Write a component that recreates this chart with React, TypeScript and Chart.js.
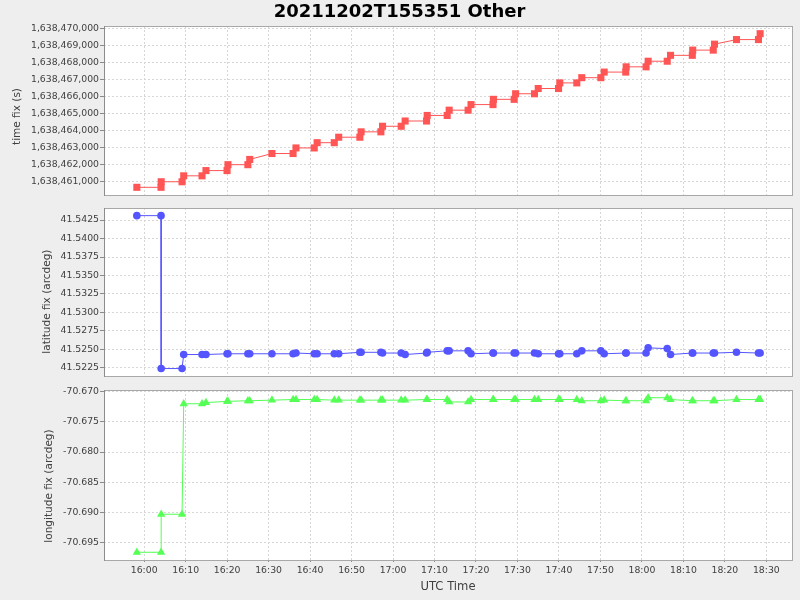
import React, { useEffect, useRef } from "react";
import { Chart, registerables } from "chart.js";

Chart.register(...registerables);

const FONT = "'DejaVu Sans', 'Noto Sans', sans-serif";
const TITLE = "20211202T155351 Other";
const X_TITLE = "UTC Time";
const TIME_FIX_TITLE = "time fix (s)";
const LAT_TITLE = "latitude fix (arcdeg)";
const LON_TITLE = "longitude fix (arcdeg)";

// UTC time of each fix record
const UTC_TIMES = [
  "15:58:14", "16:04:04", "16:04:06", "16:09:08", "16:09:32", "16:13:57", "16:14:54", "16:19:59", "16:20:12", "16:25:00",
  "16:25:27", "16:30:48", "16:35:54", "16:36:36", "16:41:00", "16:41:42", "16:45:50", "16:46:54", "16:52:00", "16:52:18",
  "16:57:04", "16:57:28", "17:01:58", "17:02:55", "17:08:05", "17:08:14", "17:13:03", "17:13:32", "17:18:06", "17:18:48",
  "17:24:06", "17:24:12", "17:29:12", "17:29:33", "17:34:06", "17:35:00", "17:39:54", "17:40:12", "17:44:18", "17:45:30",
  "17:50:06", "17:50:54", "17:56:06", "17:56:12", "18:01:00", "18:01:30", "18:06:06", "18:06:54", "18:12:09", "18:12:15",
  "18:17:12", "18:17:30", "18:22:48", "18:28:06", "18:28:30",
];

const TIME_FIX = [
  1638460673, 1638460673, 1638461000, 1638461000, 1638461348, 1638461348, 1638461657, 1638461657, 1638462004, 1638462004,
  1638462313, 1638462661, 1638462661, 1638462989, 1638462989, 1638463298, 1638463298, 1638463620, 1638463620, 1638463936,
  1638463936, 1638464264, 1638464264, 1638464573, 1638464573, 1638464901, 1638464901, 1638465211, 1638465211, 1638465539,
  1638465539, 1638465848, 1638465848, 1638466176, 1638466176, 1638466485, 1638466485, 1638466815, 1638466815, 1638467122,
  1638467122, 1638467451, 1638467451, 1638467760, 1638467760, 1638468090, 1638468090, 1638468436, 1638468436, 1638468743,
  1638468743, 1638469093, 1638469363, 1638469363, 1638469710,
];

const LATITUDE = [
  41.5431, 41.5431, 41.5224, 41.5224, 41.5243, 41.5243, 41.5243, 41.5244, 41.5244, 41.5244,
  41.5244, 41.5244, 41.5244, 41.5245, 41.5244, 41.5244, 41.5244, 41.5244, 41.5246, 41.5246,
  41.5246, 41.5245, 41.5245, 41.5243, 41.5245, 41.5246, 41.5248, 41.5248, 41.5248, 41.5244,
  41.5245, 41.5245, 41.5245, 41.5245, 41.5245, 41.5244, 41.5244, 41.5244, 41.5244, 41.5248,
  41.5248, 41.5244, 41.5245, 41.5245, 41.5245, 41.5252, 41.5251, 41.5243, 41.5245, 41.5245,
  41.5245, 41.5245, 41.5246, 41.5245, 41.5245,
];

const LONGITUDE = [
  -70.6966, -70.6966, -70.6903, -70.6903, -70.672, -70.672, -70.6718, -70.6716, -70.6716, -70.6715,
  -70.6715, -70.6714, -70.6713, -70.6713, -70.6713, -70.6713, -70.6714, -70.6714, -70.6714, -70.6714,
  -70.6714, -70.6714, -70.6714, -70.6714, -70.6713, -70.6713, -70.6713, -70.6717, -70.6717, -70.6713,
  -70.6713, -70.6713, -70.6713, -70.6713, -70.6713, -70.6713, -70.6713, -70.6713, -70.6713, -70.6715,
  -70.6715, -70.6714, -70.6715, -70.6715, -70.6715, -70.671, -70.671, -70.6713, -70.6715, -70.6715,
  -70.6715, -70.6715, -70.6713, -70.6713, -70.6713,
];

const X_TICK_LABELS = [
  "16:00", "16:10", "16:20", "16:30", "16:40", "16:50", "17:00", "17:10",
  "17:20", "17:30", "17:40", "17:50", "18:00", "18:10", "18:20", "18:30",
];
const TIME_FIX_TICKS = [
  1638461000, 1638462000, 1638463000, 1638464000, 1638465000,
  1638466000, 1638467000, 1638468000, 1638469000, 1638470000,
];
const LAT_TICKS = [41.5225, 41.525, 41.5275, 41.53, 41.5325, 41.535, 41.5375, 41.54, 41.5425];
const LON_TICKS = [-70.695, -70.69, -70.685, -70.68, -70.675, -70.67];
const X_AXIS_START = "15:50:19";
const X_AXIS_END = "18:36:11";

function toMinutes(t: string): number {
  const [h, m, s] = t.split(":").map(Number);
  return h * 60 + m + (s || 0) / 60;
}
function fmtHM(v: number): string {
  const t = Math.round(v);
  const h = Math.floor(t / 60);
  const m = t % 60;
  return String(h).padStart(2, "0") + ":" + String(m).padStart(2, "0");
}
function paddedRange(vals: number[], frac: number): [number, number] {
  const lo = Math.min(...vals);
  const hi = Math.max(...vals);
  const d = (hi - lo) * frac;
  return [lo - d, hi + d];
}

const GRID = "#d6d6d6";
const TICK_MARK = "#8a8a8a";
const TEXT = "#404040";
const TICK_FONT = { family: FONT, size: 9.3 };

const framePlugin = {
  id: "frame",
  beforeDraw(chart: any) {
    const { ctx, chartArea: a } = chart;
    ctx.save();
    ctx.fillStyle = "#eeeeee";
    ctx.fillRect(0, 0, chart.width, chart.height);
    ctx.fillStyle = "#ffffff";
    ctx.fillRect(a.left, a.top, a.right - a.left, a.bottom - a.top);
    ctx.restore();
  },
  afterDraw(chart: any) {
    const { ctx, chartArea: a } = chart;
    const l = Math.round(a.left), t = Math.round(a.top), r = Math.round(a.right), b = Math.round(a.bottom);
    ctx.save();
    ctx.lineWidth = 1;
    ctx.strokeStyle = "#a8a8a8";
    ctx.strokeRect(l + 0.5, t + 0.5, r - l, b - t);
    ctx.strokeStyle = "#8c8c8c";
    ctx.beginPath();
    ctx.moveTo(l + 0.5, t);
    ctx.lineTo(l + 0.5, b + 1);
    ctx.stroke();
    // vertical axis title
    const opts = chart.options.plugins.yAxisTitle;
    if (opts && opts.text) {
      ctx.translate(opts.x, (a.top + a.bottom) / 2 + opts.dy);
      ctx.rotate(-Math.PI / 2);
      ctx.fillStyle = TEXT;
      ctx.font = "10.5px " + FONT;
      ctx.textAlign = "center";
      ctx.textBaseline = "middle";
      ctx.fillText(opts.text, 0, 0);
    }
    ctx.restore();
  },
};

interface PanelSpec {
  values: number[];
  color: string;
  pointStyle: string;
  radius: number;
  ticks: number[];
  fmt: (v: number) => string;
  yTitle: string;
  titleX: number;
  titleDy: number;
  padLeft: number;
  padTop: number;
  padBottom: number;
  bottomAxis: boolean;
  title?: string;
}

function makeConfig(spec: PanelSpec): any {
  const xs = UTC_TIMES.map(toMinutes);
  const data = xs.map((x, i) => ({ x, y: spec.values[i] }));
  const [yMin, yMax] = paddedRange(spec.values, 0.05);
  const xTicks = X_TICK_LABELS.map((l) => toMinutes(l + ":00"));
  const AXIS_LEFT = 104;
  return {
    type: "line",
    data: {
      datasets: [
        {
          data,
          borderColor: spec.color,
          backgroundColor: spec.color,
          borderWidth: 1,
          pointStyle: spec.pointStyle,
          pointRadius: spec.radius,
          pointHoverRadius: spec.radius,
          pointBackgroundColor: spec.color,
          pointBorderColor: spec.color,
          pointBorderWidth: 0,
          fill: false,
          tension: 0,
        },
      ],
    },
    options: {
      animation: false,
      responsive: false,
      devicePixelRatio: 1,
      events: [],
      layout: { padding: { left: spec.padLeft, right: 8, top: spec.padTop, bottom: spec.padBottom } },
      plugins: {
        legend: { display: false },
        tooltip: { enabled: false },
        yAxisTitle: { text: spec.yTitle, x: spec.titleX, dy: spec.titleDy },
        title: spec.title
          ? {
              display: true,
              text: spec.title,
              color: "#000000",
              font: { family: FONT, size: 18, weight: "bold" },
              padding: { top: 1.5, bottom: 2.9 },
            }
          : { display: false },
      },
      scales: {
        x: {
          type: "linear",
          bounds: "data",
          min: toMinutes(X_AXIS_START),
          max: toMinutes(X_AXIS_END),
          afterBuildTicks: (s: any) => {
            s.ticks = xTicks.map((v) => ({ value: v }));
          },
          afterFit: (s: any) => {
            s.paddingLeft = 0;
            s.paddingRight = 0;
            s.height = spec.bottomAxis ? 40 : 0;
          },
          ticks: {
            display: spec.bottomAxis,
            autoSkip: false,
            maxRotation: 0,
            minRotation: 0,
            padding: 3,
            color: TEXT,
            font: TICK_FONT,
            callback: (v: number) => fmtHM(v),
          },
          grid: {
            color: GRID,
            lineWidth: 1,
            drawTicks: spec.bottomAxis,
            tickLength: 2,
            tickColor: TICK_MARK,
            tickWidth: 1,
          },
          border: { display: false, dash: [2, 2] },
          title: {
            display: spec.bottomAxis,
            text: X_TITLE,
            color: TEXT,
            font: { family: FONT, size: 11.6 },
            padding: { top: 4, bottom: 6 },
          },
        },
        y: {
          type: "linear",
          bounds: "data",
          min: yMin,
          max: yMax,
          afterBuildTicks: (s: any) => {
            s.ticks = spec.ticks.map((v) => ({ value: v }));
          },
          afterFit: (s: any) => {
            s.width = AXIS_LEFT - spec.padLeft;
            s.paddingTop = 0;
            s.paddingBottom = 0;
          },
          ticks: {
            autoSkip: false,
            padding: 1,
            color: TEXT,
            font: TICK_FONT,
            callback: (v: number) => spec.fmt(v),
          },
          grid: {
            color: GRID,
            lineWidth: 1,
            drawTicks: true,
            tickLength: 4,
            tickColor: TICK_MARK,
            tickWidth: 1,
          },
          border: { display: false, dash: [2, 2] },
          title: { display: false },
        },
      },
    },
    plugins: [framePlugin],
  };
}

export default function App() {
  const r1 = useRef<HTMLCanvasElement | null>(null);
  const r2 = useRef<HTMLCanvasElement | null>(null);
  const r3 = useRef<HTMLCanvasElement | null>(null);

  useEffect(() => {
    const charts: Chart[] = [];
    if (r1.current) {
      charts.push(
        new Chart(
          r1.current,
          makeConfig({
            values: TIME_FIX,
            color: "#ff5555",
            pointStyle: "rect",
            radius: 5,
            ticks: TIME_FIX_TICKS,
            fmt: (v) => Math.round(v).toLocaleString("en-US"),
            yTitle: TIME_FIX_TITLE,
            titleX: 17.7,
            titleDy: 6,
            padLeft: 7,
            padTop: 0,
            padBottom: 2,
            bottomAxis: false,
            title: TITLE,
          })
        )
      );
    }
    if (r2.current) {
      charts.push(
        new Chart(
          r2.current,
          makeConfig({
            values: LATITUDE,
            color: "#5555ff",
            pointStyle: "circle",
            radius: 3.8,
            ticks: LAT_TICKS,
            fmt: (v) => v.toFixed(4),
            yTitle: LAT_TITLE,
            titleX: 47.7,
            titleDy: 9.5,
            padLeft: 37,
            padTop: 8,
            padBottom: 1,
            bottomAxis: false,
          })
        )
      );
    }
    if (r3.current) {
      charts.push(
        new Chart(
          r3.current,
          makeConfig({
            values: LONGITUDE,
            color: "#55ff55",
            pointStyle: "triangle",
            radius: 4.8,
            ticks: LON_TICKS,
            fmt: (v) => v.toFixed(3),
            yTitle: LON_TITLE,
            titleX: 49.4,
            titleDy: 11,
            padLeft: 39,
            padTop: 10,
            padBottom: 0,
            bottomAxis: true,
          })
        )
      );
    }
    return () => charts.forEach((c) => c.destroy());
  }, []);

  const canvasStyle = (top: number, height: number): React.CSSProperties => ({
    position: "absolute",
    left: 0,
    top,
    width: 800,
    height,
    display: "block",
  });

  return (
    <div
      style={{
        position: "fixed",
        left: 0,
        top: 0,
        width: 800,
        height: 600,
        background: "#eeeeee",
        overflow: "hidden",
      }}
    >
      <canvas ref={r1} width={800} height={200} style={canvasStyle(0, 200)} />
      <canvas ref={r2} width={800} height={180} style={canvasStyle(200, 180)} />
      <canvas ref={r3} width={800} height={220} style={canvasStyle(380, 220)} />
    </div>
  );
}
